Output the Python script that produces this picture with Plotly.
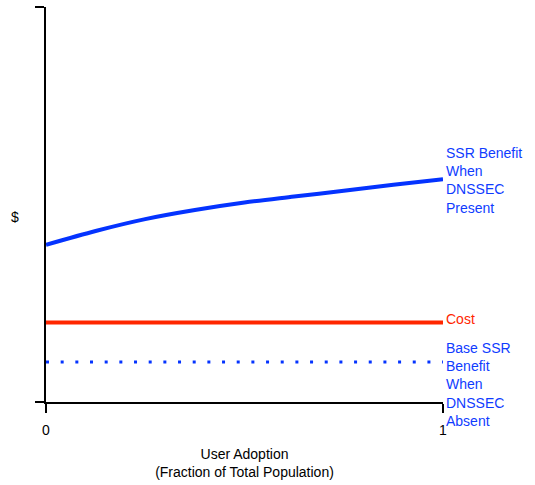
import plotly.graph_objects as go

# Data
adoption = [0, 0.125, 0.25, 0.375, 0.5, 0.625, 0.75, 0.875, 1]
ssr_benefit_present = [0.398, 0.433, 0.463, 0.486, 0.505, 0.520, 0.535, 0.550, 0.564]
cost_x = [0, 1]
cost = [0.2015, 0.2015]
base_x = [0, 1]
base_benefit = [0.101, 0.101]
x_tick_vals = [0, 1]
x_tick_text = ["0", "1"]

BLUE = "#0433ff"
BLUE_TXT = "#0f3cff"
RED = "#ff2600"
FONT = "Liberation Sans, Arial, Helvetica, sans-serif"

fig = go.Figure()
fig.add_trace(go.Scatter(x=adoption, y=ssr_benefit_present, mode="lines",
                         line=dict(color=BLUE, width=4, shape="spline", smoothing=0.8),
                         hoverinfo="skip", showlegend=False))
fig.add_trace(go.Scatter(x=cost_x, y=cost, mode="lines",
                         line=dict(color=RED, width=4),
                         hoverinfo="skip", showlegend=False))
fig.add_trace(go.Scatter(x=base_x, y=base_benefit, mode="lines",
                         line=dict(color=BLUE, width=3, dash="3px,11.67px"),
                         hoverinfo="skip", showlegend=False))

ann_font = dict(family=FONT, size=14, color=BLUE_TXT)
fig.add_annotation(x=1, y=ssr_benefit_present[-1], xref="x", yref="y",
                   text="SSR Benefit<br>When<br>DNSSEC<br>Present",
                   showarrow=False, xanchor="left", yanchor="middle", align="left",
                   xshift=1, yshift=-1, font=ann_font)
fig.add_annotation(x=1, y=cost[-1], xref="x", yref="y", text="Cost",
                   showarrow=False, xanchor="left", yanchor="middle", align="left",
                   xshift=1, yshift=3, font=dict(family=FONT, size=14, color=RED))
fig.add_annotation(x=1, y=base_benefit[-1], xref="x", yref="y",
                   text="Base SSR<br>Benefit<br>When<br>DNSSEC<br>Absent",
                   showarrow=False, xanchor="left", yanchor="middle", align="left",
                   xshift=1, yshift=-22, font=ann_font)
fig.add_annotation(x=-0.078, y=0.468, xref="paper", yref="paper", text="$",
                   showarrow=False, xanchor="center", yanchor="middle",
                   font=dict(family=FONT, size=14, color="black"))

fig.update_layout(
    width=535, height=485,
    margin=dict(l=46, r=92, t=7, b=81),
    paper_bgcolor="white", plot_bgcolor="white",
    font=dict(family=FONT, size=14, color="black"),
    xaxis=dict(range=[0, 1], tickvals=x_tick_vals, ticktext=x_tick_text,
               showline=True, linecolor="black", linewidth=2,
               ticks="outside", ticklen=9, tickwidth=2, tickcolor="black",
               showgrid=False, zeroline=False, ticklabelstandoff=5,
               title=dict(text="User Adoption<br>(Fraction of Total Population)",
                          font=dict(family=FONT, size=14), standoff=12)),
    yaxis=dict(range=[0, 1], tickvals=[0, 1], showticklabels=False,
               showline=True, linecolor="black", linewidth=2,
               ticks="outside", ticklen=9, tickwidth=2, tickcolor="black",
               showgrid=False, zeroline=False),
)

fig.write_html("out.html", config={"displayModeBar": False},
               post_script="document.body.style.margin='0px';document.body.style.overflow='hidden';")
